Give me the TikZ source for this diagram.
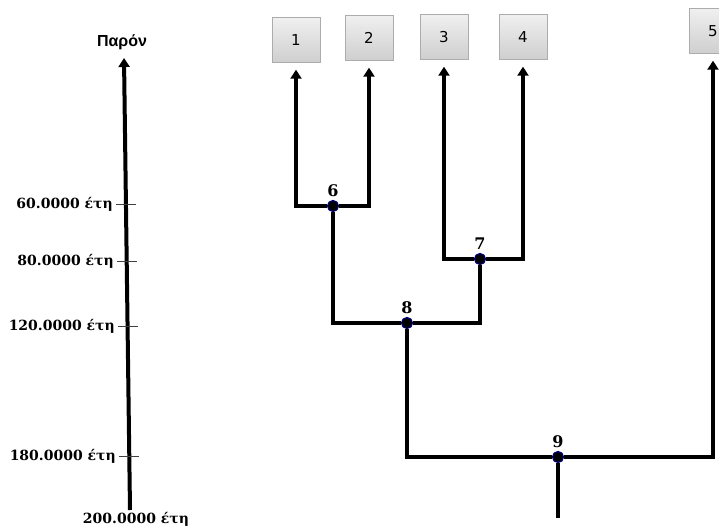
\documentclass[tikz,border=0pt]{standalone}
\usepackage{fontspec}
\setmainfont{DejaVu Serif}
\newfontfamily\leaffont{DejaVu Sans}
\newfontfamily\nowfont{Liberation Sans}
\usetikzlibrary{arrows.meta}

\begin{document}
\begin{tikzpicture}[x=1pt, y=-1pt,
    limb/.style={line width=3.5pt},
    uparrow/.style={-{Triangle[width=11pt, length=9pt]}, shorten >=7pt},
    leaf/.style={draw=gray!65, top color=gray!12, bottom color=gray!38, minimum width=48pt, minimum height=45pt, inner sep=0pt, font=\leaffont\fontsize{15}{17}\selectfont},
    splitnode/.style={circle, fill=black, draw=blue!45!black, line width=1.2pt, minimum size=11pt, inner sep=0pt, label distance=0.5pt},
    numfont/.style={font=\bfseries\fontsize{16}{18}\selectfont},
    yrlabel/.style={font=\bfseries\fontsize{14}{16}\selectfont, inner sep=0pt}]
        \useasboundingbox (0,0) rectangle (719,529);
        % time axis
        \coordinate (axbot) at (130,510);
        \coordinate (axtop) at (124,58);
        \node[font=\nowfont\bfseries\fontsize{16}{18}\selectfont] (now) at (122,42) {Παρόν};
        \draw [line width=4pt, -{Triangle[width=11pt, length=9pt]}] (axbot) to (axtop);
        \foreach \yy/\xx/\txt [count=\i] in {204/126/60, 261/127/80, 326/128/120, 456/129/180} {
            \draw [thin, gray!50!black] (\xx-10, \yy) to (\xx+10, \yy);
            \node[yrlabel, anchor=east] (yr\i) at (\xx-13, \yy) {\txt.0000 έτη};
        }
        \node[yrlabel] (yr5) at (136,519) {200.0000 έτη};
        % leaves
        \foreach \n/\x/\y in {1/296/40, 2/369/38, 3/444/37, 4/523/37, 5/713/31} {
            \node[leaf] (l\n) at (\x,\y) {\n};
        }
        % splits
        \node[splitnode, label={[numfont]above:6}] (n6) at (333,206) {};
        \node[splitnode, label={[numfont]above:7}] (n7) at (480,259) {};
        \node[splitnode, label={[numfont]above:8}] (n8) at (407,323) {};
        \node[splitnode, label={[numfont]above:9}] (n9) at (558,457) {};
        \coordinate (root) at (558,518);
        \draw [limb, uparrow] (n6) -| (l1);
        \draw [limb, uparrow] (n6) -| (l2);
        \draw [limb, uparrow] (n7) -| (l3);
        \draw [limb, uparrow] (n7) -| (l4);
        \draw [limb] (n8) -| (n6);
        \draw [limb] (n8) -| (n7);
        \draw [limb] (n9) -| (n8);
        \draw [limb, uparrow] (n9) -| (l5);
        \draw [limb] (n9) to (root);
    \end{tikzpicture}
\end{document}
